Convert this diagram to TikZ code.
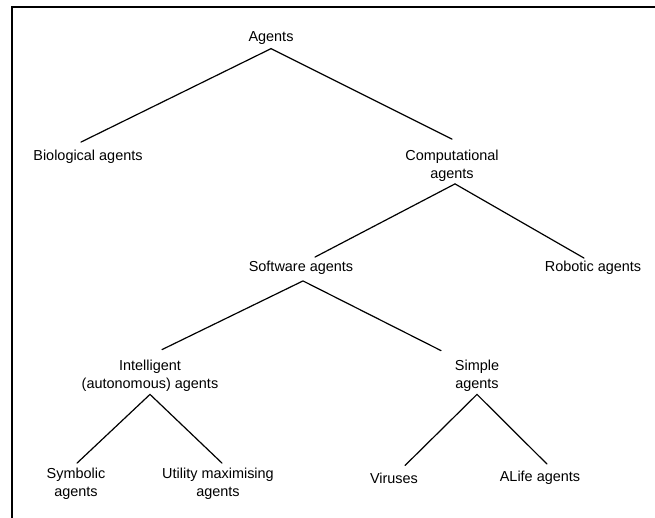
\documentclass[tikz,border=0pt]{standalone}
\usepackage{fontspec}
\setmainfont{Liberation Sans}
\begin{document}
\begin{tikzpicture}[x=1bp,y=-1bp,
  label/.style={inner sep=0pt, align=center, font=\fontsize{14.5}{18}\selectfont},
  branch/.style={line width=1.2bp, line cap=round},
  frame/.style={line width=1.3bp}]
\useasboundingbox (0,0) rectangle (655,518);
% open frame along the top and left edge
\draw[frame] (12,518) -- (12,7) -- (655,7);

% tree labels
\node[label] (agents)   at (271,38)    {Agents};
\node[label] (bio)      at (88,157)    {Biological agents};
\node[label] (comp)     at (452,166)   {Computational\\agents};
\node[label] (soft)     at (301,268)   {Software agents};
\node[label] (robot)    at (593,268)   {Robotic agents};
\node[label] (intel)    at (150,375.5) {Intelligent\\(autonomous) agents};
\node[label] (simple)   at (477,375.5) {Simple\\agents};
\node[label] (symb)     at (76,484)    {Symbolic\\agents};
\node[label] (util)     at (218,484)   {Utility maximising\\agents};
\node[label] (virus)    at (394,478)   {Viruses};
\node[label] (alife)    at (540,478)   {ALife agents};

% branches
\draw[branch] ([xshift=-7bp,yshift=8bp]bio.north) -- ([yshift=-4bp]agents.south)
              -- ([yshift=11bp]comp.north);
\draw[branch] ([xshift=14bp,yshift=4bp]soft.north) -- ([xshift=3bp,yshift=-2bp]comp.south)
              -- ([xshift=-9bp,yshift=3bp]robot.north);
\draw[branch] ([xshift=12bp,yshift=10bp]intel.north) -- ([xshift=2bp,yshift=-6bp]soft.south)
              -- ([xshift=-36bp,yshift=9bp]simple.north);
\draw[branch] ([xshift=1bp,yshift=5bp]symb.north) -- ([yshift=-3bp]intel.south)
              -- ([xshift=4bp,yshift=5bp]util.north);
\draw[branch] ([xshift=11bp,yshift=7bp]virus.north) -- ([yshift=-3bp]simple.south)
              -- ([xshift=7bp,yshift=7bp]alife.north);
\end{tikzpicture}
\end{document}
